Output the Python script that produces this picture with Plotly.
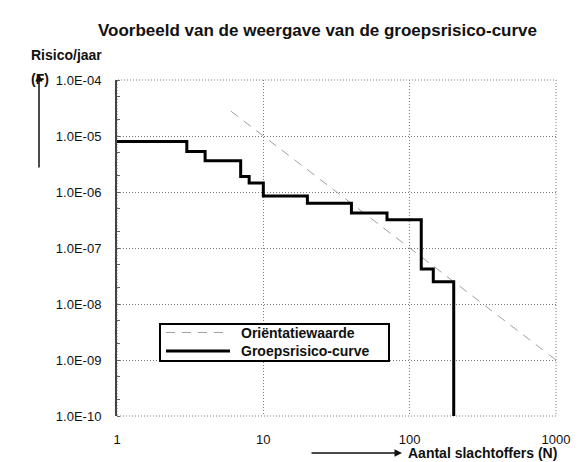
import plotly.graph_objects as go

# ---- data ----
n_groep = [1, 3, 4, 7, 8, 10, 20, 40, 70, 120, 145, 200]
f_groep = [8.0e-06, 5.3e-06, 3.6e-06, 1.9e-06, 1.45e-06, 8.5e-07, 6.3e-07,
           4.2e-07, 3.2e-07, 4.2e-08, 2.5e-08, 1.0e-10]

n_orient = [6, 10, 100, 1000]
f_orient = [2.78e-05, 1.0e-05, 1.0e-07, 1.0e-09]

x_tickvals = [1, 10, 100, 1000]
x_ticktext = ["1", "10", "100", "1000"]
y_tickvals = [1e-10, 1e-09, 1e-08, 1e-07, 1e-06, 1e-05, 1e-04]
y_ticktext = ["1.0E-10", "1.0E-09", "1.0E-08", "1.0E-07", "1.0E-06", "1.0E-05", "1.0E-04"]

legend_names = ["Oriëntatiewaarde", "Groepsrisico-curve"]

FONT = "Liberation Sans, Arial, sans-serif"
TXT = "#111"
ORIENT_STYLE = dict(color="#a0a0a0", width=1, dash="9px,7px")
GROEP_STYLE = dict(color="black", width=3)

fig = go.Figure()
fig.add_trace(go.Scatter(
    x=n_orient, y=f_orient, mode="lines", name=legend_names[0],
    line=ORIENT_STYLE, showlegend=False,
))
fig.add_trace(go.Scatter(
    x=n_groep, y=f_groep, mode="lines", name=legend_names[1],
    line=dict(**GROEP_STYLE, shape="hv"), showlegend=False,
))

W, H = 581, 462
L, R, T, B = 109, 548, 72, 408


def px(x):
    return (x - L) / (R - L)


def py(y):
    return (B - y) / (B - T)


fig.update_layout(
    width=W, height=H,
    margin=dict(l=L, r=W - R, t=T, b=H - B),
    paper_bgcolor="white", plot_bgcolor="white",
    font=dict(family=FONT, size=13, color=TXT),
    title=dict(text="<b>Voorbeeld van de weergave van de groepsrisico-curve</b>",
               x=90 / W, xref="container", xanchor="left",
               y=1 - 22 / H, yanchor="middle",
               font=dict(family=FONT, size=17, color=TXT)),
    showlegend=False,
    xaxis=dict(type="log", range=[0, 3], tickvals=x_tickvals, ticktext=x_ticktext,
               showgrid=True, gridcolor="#7a7a7a", griddash="1px,2px", gridwidth=1,
               showline=False, zeroline=False, ticks="", ticklabelstandoff=14,
               tickfont=dict(family=FONT, size=13, color=TXT)),
    yaxis=dict(type="log", range=[-10, -4], tickvals=y_tickvals, ticktext=y_ticktext,
               showgrid=True, gridcolor="#7a7a7a", griddash="1px,2px", gridwidth=1,
               showline=True, linecolor="#444", linewidth=2, zeroline=False,
               ticks="", ticklabelstandoff=11,
               minor=dict(ticks="inside", ticklen=3, tickcolor="#666",
                          showgrid=False),
               tickfont=dict(family=FONT, size=13, color=TXT)),
)

# dotted frame around plot area (top / right / bottom borders are dotted in reference)
fig.add_shape(type="rect", xref="paper", yref="paper", x0=0, x1=1, y0=0, y1=1,
              line=dict(color="#7a7a7a", width=1, dash="1px,2px"), layer="below")

# legend box (custom, to match the compact Excel legend)
LG_L, LG_R, LG_T, LG_B = 152, 381, 316, 353
fig.add_shape(type="rect", xref="paper", yref="paper",
              x0=px(LG_L), x1=px(LG_R), y0=py(LG_B), y1=py(LG_T),
              line=dict(color="black", width=2), fillcolor="white", layer="above")
rows = [324.5, 343]
styles = [ORIENT_STYLE, GROEP_STYLE]
for name, yy, st in zip(legend_names, rows, styles):
    fig.add_shape(type="line", xref="paper", yref="paper",
                  x0=px(158), x1=px(222), y0=py(yy), y1=py(yy),
                  line=st, layer="above")
    fig.add_annotation(x=px(231), y=py(yy), xref="paper", yref="paper",
                       text="<b>" + name + "</b>", showarrow=False,
                       xanchor="left", yanchor="middle",
                       font=dict(family=FONT, size=14, color=TXT))

# axis labels with arrows
fig.add_annotation(x=px(21), y=py(47), xref="paper", yref="paper",
                   text="<b>Risico/jaar</b>", showarrow=False,
                   xanchor="left", yanchor="middle",
                   font=dict(family=FONT, size=14, color=TXT))
fig.add_annotation(x=px(21), y=py(71), xref="paper", yref="paper",
                   text="<b>(F)</b>", showarrow=False,
                   xanchor="left", yanchor="middle",
                   font=dict(family=FONT, size=14, color=TXT))
fig.add_annotation(x=px(31), y=py(66), xref="paper", yref="paper",
                   text="", showarrow=True, arrowhead=2, arrowsize=1,
                   arrowwidth=1.5, arrowcolor=TXT, ax=0, ay=95)
fig.add_annotation(x=px(394), y=py(445), xref="paper", yref="paper",
                   text="", showarrow=True, arrowhead=2, arrowsize=1,
                   arrowwidth=1.5, arrowcolor=TXT, ax=-92, ay=0)
fig.add_annotation(x=px(398), y=py(445), xref="paper", yref="paper",
                   text="<b>Aantal slachtoffers (N)</b>", showarrow=False,
                   xanchor="left", yanchor="middle",
                   font=dict(family=FONT, size=14, color=TXT))

fig.write_html("out.html")
